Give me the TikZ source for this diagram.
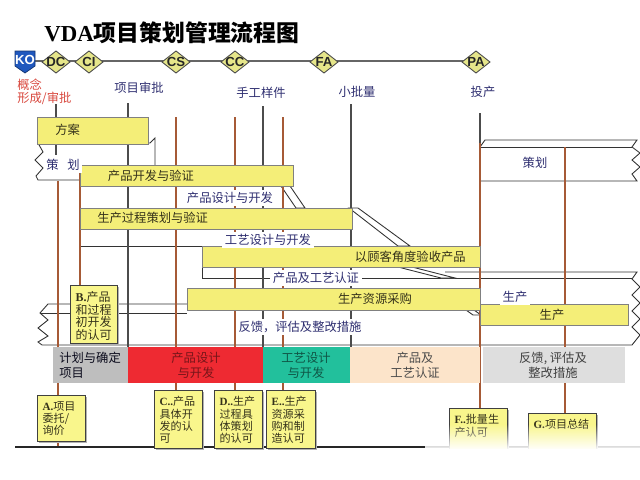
\documentclass[tikz,border=0pt]{standalone}
\usepackage{fontspec}
\setmainfont{Liberation Serif}
\newfontfamily\cjk{Noto Sans CJK SC}
\newfontfamily\lsans{Liberation Sans}
\usepackage{tikz}
\usetikzlibrary{fadings}
\definecolor{y1}{HTML}{F4EE78}
\definecolor{y2}{HTML}{F9F68C}
\definecolor{d1}{HTML}{E6E68A}
\definecolor{k1}{HTML}{2058BE}
\definecolor{n1}{HTML}{2E2E70}
\definecolor{br}{HTML}{A65A36}
\definecolor{t1}{HTML}{35321A}
\definecolor{r1}{HTML}{D8483E}
\definecolor{p1}{HTML}{BEBEBE}
\definecolor{p2}{HTML}{EE2A32}
\definecolor{p3}{HTML}{22C09C}
\definecolor{p4}{HTML}{FCE4CA}
\definecolor{p5}{HTML}{DEDEDE}
\tikzfading[name=fadeout, top color=transparent!100, bottom color=transparent!0]
\tikzstyle{yellowbar}=[fill=y1,draw=black!50,line width=0.4pt]
\tikzstyle{whiteband}=[fill=white,draw=black!80,line width=0.5pt]
\tikzstyle{bandline}=[draw=black!80,line width=0.5pt]
\tikzstyle{vblack}=[black!70,line width=0.6pt]
\tikzstyle{vbrown}=[br,line width=0.9pt]
\tikzstyle{mslbl}=[font=\cjk\fontsize{7}{8}\selectfont,text=n1,inner sep=0pt]
\tikzstyle{bandlbl}=[font=\cjk\fontsize{7}{8}\selectfont,text=n1,fill=white,inner sep=1.5pt]
\tikzstyle{bartxt}=[font=\cjk\fontsize{7}{8}\selectfont,text=t1,inner sep=0pt]
\tikzstyle{msbox}=[fill=d1,draw=black!70,line width=0.5pt]
\tikzstyle{mstxt}=[font=\lsans\bfseries\fontsize{7.5}{7.5}\selectfont,text=black!85,inner sep=0pt]
\tikzstyle{phasetxt}=[font=\cjk\fontsize{7}{8.5}\selectfont,align=center,inner sep=0pt]
\tikzstyle{gatebox}=[fill=y2,draw=black!75,line width=0.5pt]
\tikzstyle{gatetxt}=[font=\cjk\fontsize{6.3}{7}\selectfont,text=t1,anchor=north west,align=left,inner xsep=3pt,inner ysep=3.5pt]
\newcommand{\milestone}[3]
{ % #1 = name, #2 = x position, #3 = text
  \draw[msbox] (#2-14,62) -- (#2,51) -- (#2+14,62) -- (#2,73) -- cycle;
  \node[mstxt] (#1) at (#2,62) {#3};
}
\newcommand{\gate}[7][]
{ % #1 = extra style, #2 = name, #3,#4 = top left, #5,#6 = bottom right, #7 = text
  \fill[black!30] (#3+1.5,#4+1.5) rectangle (#5+1.5,#6+1.5);
  \draw[gatebox] (#3,#4) rectangle (#5,#6);
  \node[gatetxt,#1] (#2) at (#3,#4) {#7};
}

\begin{document}
\begin{tikzpicture}[x=0.02cm,y=-0.02cm]
  \useasboundingbox (0,0) rectangle (640,480);
  \node[anchor=west,inner sep=0pt,font=\fontsize{13}{13}\selectfont\bfseries] (title) at (44,33) {VDA{\cjk 项目策划管理流程图}};
  % milestones
  \coordinate (ko) at (25,61);
  \coordinate (pa) at (476,61);
  \draw[black!60,line width=0.7pt] (ko) -- (pa);
  \draw[fill=k1,draw=k1!60!black] (15,51) -- (35,51) -- (35,66) -- (25,73) -- (15,66) -- cycle;
  \node[mstxt,text=white] (KO) at (25,60) {KO};
  \milestone{DC}{56}{DC}
  \milestone{CI}{89}{CI}
  \milestone{CS}{176}{CS}
  \milestone{CC}{235}{CC}
  \milestone{FA}{324}{FA}
  \milestone{PA}{476}{PA}
  \node[mslbl,text=r1,anchor=west] (gn1) at (17,85) {概念};
  \node[mslbl,text=r1,anchor=west] (gn2) at (17,98) {形成/审批};
  \node[mslbl] (xm) at (139,88) {项目审批};
  \node[mslbl] (sg) at (261,93) {手工样件};
  \node[mslbl] (xp) at (357,92) {小批量};
  \node[mslbl] (tc) at (483,92) {投产};
  % bands
  \draw[whiteband] (38,143) -- (43,152) -- (35,160) -- (43,168) -- (36,176) -- (38,180) -- (155,180) -- (155,138) -- (150,143) -- cycle;
  \draw[whiteband] (480,147) -- (485,140) -- (637,140) -- (632,147) -- (640,153) -- (632,160) -- (640,167) -- (632,174) -- (637,181) -- (480,181) -- cycle;
  \draw[bandline] (480,147) -- (632,147);
  \draw[bandline] (80,246) -- (202,246) -- (202,278) -- (632,278);
  \draw[bandline] (445,272) -- (637,272) -- (632,279) -- (640,287) -- (632,295) -- (640,303) -- (632,311) -- (640,319) -- (632,327) -- (640,335) -- (632,345) -- (42,345) -- (38,342) -- (48,336) -- (38,328) -- (48,320) -- (40,313) -- (48,304) -- (187,304);
  \draw[bandline] (40,313) -- (187,313);
  \draw[whiteband] (281,186) -- (290,186) -- (305,208) -- (296,208) -- cycle;
  \draw[whiteband] (349,208) -- (358,208) -- (410,246) -- (398,246) -- cycle;
  \draw[whiteband] (398,267) -- (412,267) -- (455,278) -- (441,278) -- cycle;
  \draw[whiteband] (466,310) -- (474,310) -- (481,315) -- (473,315) -- cycle;
  % vertical lines
  \draw[vblack] (56,104) -- (56,155);
  \draw[vbrown] (58,181) -- (58,447);
  \draw[vbrown] (80,165) -- (80,285);
  \draw[vblack] (128,103) -- (128,347);
  \draw[vbrown] (176,117) -- (176,390);
  \draw[vbrown] (235,117) -- (235,390);
  \draw[vblack] (263,106) -- (263,347);
  \draw[vbrown] (283,117) -- (283,390);
  \draw[vblack] (351,104) -- (351,347);
  \draw[vblack] (480,113) -- (480,143);
  \draw[vbrown] (480,143) -- (480,408);
  \draw[vbrown] (565,147) -- (565,413);
  % yellow bars
  \draw[yellowbar] (37,117) rectangle (148,144);
  \node[bartxt,anchor=west] (fa) at (55,130) {方案};
  \draw[yellowbar] (80,165) rectangle (293,186);
  \node[bartxt] (cpkf) at (151,176) {产品开发与验证};
  \draw[yellowbar] (80,208) rectangle (352,229);
  \node[bartxt,anchor=west] (scgc) at (97,218) {生产过程策划与验证};
  \draw[yellowbar] (202,246) rectangle (480,267);
  \node[bartxt,anchor=east] (gk) at (466,257) {以顾客角度验收产品};
  \draw[yellowbar] (187,288) rectangle (480,310);
  \node[bartxt] (zy) at (375,299) {生产资源采购};
  \draw[yellowbar] (480,304) rectangle (628,325);
  \node[bartxt] (sc2) at (552,315) {生产};
  % band labels
  \node[bandlbl] (ch1) at (63,165) {策\hspace{5pt}划};
  \node[bandlbl] (ch2) at (535,163) {策划};
  \node[bandlbl] (cpsj) at (230,198) {产品设计与开发};
  \node[bandlbl] (gysj) at (268,240) {工艺设计与开发};
  \node[bandlbl] (cprz) at (316,278) {产品及工艺认证};
  \node[bandlbl] (fk) at (300,327) {反馈，评估及整改措施};
  \node[bandlbl] (sc1) at (515,297) {生产};
  % phases
  \fill[p1] (53,347) rectangle (128,383);
  \fill[p2] (128,347) rectangle (263,383);
  \fill[p3] (263,347) rectangle (350,383);
  \fill[p4] (350,347) rectangle (480,383);
  \fill[p5] (483,347) rectangle (625,383);
  \node[phasetxt,text=black!75!n1,align=left,anchor=west] (ph1) at (59,365) {计划与确定\\项目};
  \node[phasetxt,text=p2!50!black] (ph2) at (196,365) {产品设计\\与开发};
  \node[phasetxt,text=p3!45!black] (ph3) at (306,365) {工艺设计\\与开发};
  \node[phasetxt,text=black!70] (ph4) at (415,365) {产品及\\工艺认证};
  \node[phasetxt,text=black!75] (ph5) at (553,365) {反馈, 评估及\\整改措施};
  % gates
  \draw[black!85,line width=0.6pt] (15,447) -- (640,447);
  \gate{gA}{37}{395}{85}{441}{{\rmfamily\bfseries A.}项目\\委托/\\询价}
  \gate[font=\cjk\fontsize{6.8}{7.2}\selectfont]{gB}{70}{285}{117}{343}{{\rmfamily\bfseries B.}产品\\和过程\\初开发\\的认可}
  \gate{gC}{154}{390}{202}{448}{{\rmfamily\bfseries C..}产品\\具体开\\发的认\\可}
  \gate{gD}{214}{390}{262}{448}{{\rmfamily\bfseries D..}生产\\过程具\\体策划\\的认可}
  \gate{gE}{266}{390}{315}{448}{{\rmfamily\bfseries E..}生产\\资源采\\购和制\\造认可}
  \gate{gF}{449}{408}{507}{452}{{\rmfamily\bfseries F..}批量生\\产认可}
  \gate{gG}{528}{413}{596}{452}{{\rmfamily\bfseries G.}项目总结}
  \fill[white,path fading=fadeout] (425,424) rectangle (640,450);
  \fill[white] (425,449) rectangle (640,480);
\end{tikzpicture}
\end{document}
